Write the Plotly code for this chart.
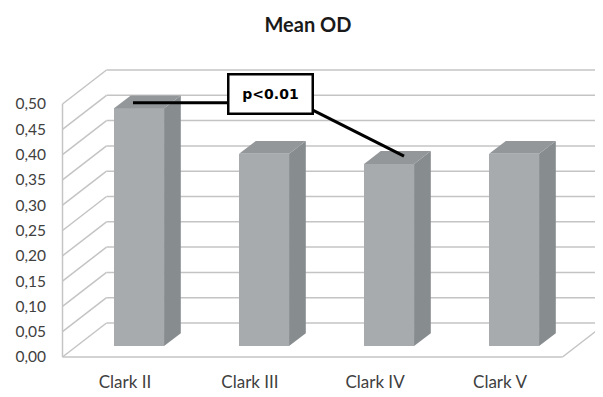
import plotly.graph_objects as go

# ---- data ----
categories = ["Clark II", "Clark III", "Clark IV", "Clark V"]
mean_od = [0.47, 0.38, 0.36, 0.38]
tick_vals = [0.00, 0.05, 0.10, 0.15, 0.20, 0.25, 0.30, 0.35, 0.40, 0.45, 0.50]
tick_text = ["0,00", "0,05", "0,10", "0,15", "0,20", "0,25", "0,30", "0,35", "0,40", "0,45", "0,50"]
chart_title = "Mean OD"
p_label = "p<0.01"

# ---- pseudo-3D geometry (in axis units) ----
DEPTH_X = 0.352      # depth shift along x (category units)
DEPTH_Y = 0.0672     # depth shift along y (value units)
BAR_W = 0.40
D1, D2 = 0.32, 0.70  # bar depth span (fraction of full depth)
X_LO, X_HI = -0.5, len(categories) - 0.5
Y_TOP = tick_vals[-1]

FRONT = "#a7abae"
SIDE = "#878c8f"
TOP = "#93979a"
GRID = "#c4c4c4"

fig = go.Figure()

shapes = []
for t in tick_vals:
    shapes.append(dict(type="line", xref="x", yref="y", layer="below",
                       x0=X_LO, y0=t, x1=X_LO + DEPTH_X, y1=t + DEPTH_Y,
                       line=dict(color=GRID, width=1.5)))
    shapes.append(dict(type="line", xref="x", yref="y", layer="below",
                       x0=X_LO + DEPTH_X, y0=t + DEPTH_Y, x1=X_HI + DEPTH_X, y1=t + DEPTH_Y,
                       line=dict(color=GRID, width=1.5)))
shapes.append(dict(type="line", xref="x", yref="y", layer="below",
                   x0=X_LO, y0=0, x1=X_LO, y1=Y_TOP,
                   line=dict(color=GRID, width=1.5)))
shapes.append(dict(type="line", xref="x", yref="y", layer="below",
                   x0=X_LO, y0=0, x1=X_HI, y1=0,
                   line=dict(color=GRID, width=1.5)))
shapes.append(dict(type="line", xref="x", yref="y", layer="below",
                   x0=X_HI, y0=0, x1=X_HI + DEPTH_X, y1=DEPTH_Y,
                   line=dict(color=GRID, width=1.5)))

# front faces
xs = list(range(len(categories)))
fig.add_trace(go.Bar(
    x=[i + D1 * DEPTH_X for i in xs], y=mean_od, base=D1 * DEPTH_Y, width=BAR_W,
    marker=dict(color=FRONT, line=dict(width=0)), hoverinfo="skip", showlegend=False))

# side + top faces
for i, v in zip(xs, mean_od):
    xl = i - BAR_W / 2 + D1 * DEPTH_X
    xr = i + BAR_W / 2 + D1 * DEPTH_X
    yb = D1 * DEPTH_Y
    yt = v + D1 * DEPTH_Y
    ddx = (D2 - D1) * DEPTH_X
    ddy = (D2 - D1) * DEPTH_Y
    fig.add_trace(go.Scatter(
        x=[xr, xr + ddx, xr + ddx, xr, xr], y=[yb, yb + ddy, yt + ddy, yt, yb],
        fill="toself", fillcolor=SIDE, mode="lines", line=dict(width=0, color=SIDE),
        hoverinfo="skip", showlegend=False))
    fig.add_trace(go.Scatter(
        x=[xl, xr, xr + ddx, xl + ddx, xl], y=[yt, yt, yt + ddy, yt + ddy, yt],
        fill="toself", fillcolor=TOP, mode="lines", line=dict(width=0, color=TOP),
        hoverinfo="skip", showlegend=False))

# significance annotation
box_x, box_y = 1.164, 0.519
dmid = (D1 + D2) / 2
fig.add_trace(go.Scatter(
    x=[0.064, box_x - 0.3, None, box_x + 0.33, 2.232],
    y=[mean_od[0] + dmid * DEPTH_Y - 0.002, mean_od[0] + dmid * DEPTH_Y - 0.002, None,
       box_y - 0.03, mean_od[2] + 0.55 * DEPTH_Y],
    mode="lines", line=dict(color="black", width=3),
    hoverinfo="skip", showlegend=False))

fig.add_annotation(x=box_x, y=box_y, xref="x", yref="y", text="<b>" + p_label + "</b>",
                   showarrow=False, font=dict(family="DejaVu Sans", size=14, color="black"),
                   bgcolor="white", bordercolor="black", borderwidth=2.5, borderpad=2,
                   width=78, height=33)

# page body has an 8px margin, so the figure is 8px smaller and coordinates shifted
fig.update_layout(
    width=595, height=389,
    margin=dict(l=47, r=0, t=52, b=27),
    paper_bgcolor="white", plot_bgcolor="white",
    shapes=shapes,
    title=dict(text="<b>" + chart_title + "</b>", x=300 / 595, xref="container",
               y=1 - 17 / 389, yref="container", xanchor="center", yanchor="middle",
               font=dict(family="Lato", size=20, color="#1a1a1a")),
    xaxis=dict(range=[-0.56, 3.824], tickvals=xs, ticktext=categories,
               showgrid=False, zeroline=False, showline=False, ticks="",
               tickfont=dict(family="Lato", size=17, color="#404040")),
    yaxis=dict(range=[-0.0257, 0.587], tickvals=tick_vals, ticktext=tick_text,
               showgrid=False, zeroline=False, showline=False, ticks="",
               ticklabelstandoff=8,
               tickfont=dict(family="Lato", size=15.5, color="#404040")),
    bargap=0,
)

fig.write_html("out.html")
